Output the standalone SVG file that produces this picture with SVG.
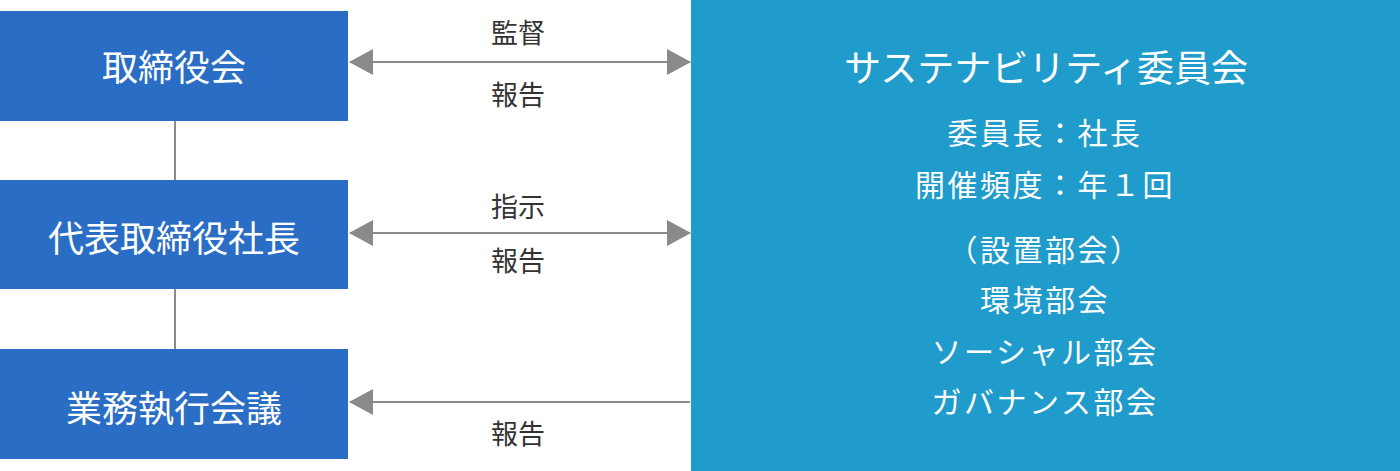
<svg xmlns="http://www.w3.org/2000/svg" width="1400" height="471" viewBox="0 0 1400 471">
<style>
text{font-family:"Noto Sans CJK JP","Noto Sans",sans-serif;text-anchor:middle;dominant-baseline:central}
.lb{fill:#2a6dc5}
.nt{fill:#fff;font-size:36px}
.tt{fill:#fff;font-size:37px}
.rt{fill:#fff;font-size:30px;letter-spacing:2.5px}
.lab{fill:#333;font-size:27px}
.ln{stroke:#8a8a8a;stroke-width:2;fill:none}
</style>
<defs>
<marker id="ah" viewBox="0 0 24 26" refX="23" refY="13" markerWidth="24" markerHeight="26" markerUnits="userSpaceOnUse" orient="auto-start-reverse">
<path d="M0,0 L24,13 L0,26 Z" fill="#8a8a8a"/>
</marker>
</defs>
<g id="connectors">
<line class="ln" x1="175" y1="121" x2="175" y2="180"/>
<line class="ln" x1="175" y1="289" x2="175" y2="349"/>
<line class="ln" x1="350" y1="62" x2="690" y2="62" marker-start="url(#ah)" marker-end="url(#ah)"/>
<line class="ln" x1="350" y1="233" x2="690" y2="233" marker-start="url(#ah)" marker-end="url(#ah)"/>
<line class="ln" x1="350" y1="402" x2="690" y2="402" marker-start="url(#ah)"/>
<text class="lab" x="518" y="31">監督</text>
<text class="lab" x="518" y="93">報告</text>
<text class="lab" x="518" y="205">指示</text>
<text class="lab" x="518" y="259">報告</text>
<text class="lab" x="518" y="432">報告</text>
</g>
<g id="board">
<rect class="lb" x="0" y="11" width="348" height="110"/>
<text class="nt" x="174" y="65">取締役会</text>
</g>
<g id="president">
<rect class="lb" x="0" y="180" width="348" height="109"/>
<text class="nt" x="174" y="236">代表取締役社長</text>
</g>
<g id="exec">
<rect class="lb" x="0" y="349" width="348" height="110"/>
<text class="nt" x="174" y="406">業務執行会議</text>
</g>
<g id="sustainability">
<rect x="691" y="0" width="709" height="471" fill="#1f9ccc"/>
<text class="tt" x="1046" y="66">サステナビリティ委員会</text>
<text class="rt" x="1045" y="131">委員長：社長</text>
<text class="rt" x="1045" y="183">開催頻度：年１回</text>
<text class="rt" x="1045" y="248">（設置部会）</text>
<text class="rt" x="1045" y="298">環境部会</text>
<text class="rt" x="1045" y="350">ソーシャル部会</text>
<text class="rt" x="1045" y="400">ガバナンス部会</text>
</g>
</svg>
